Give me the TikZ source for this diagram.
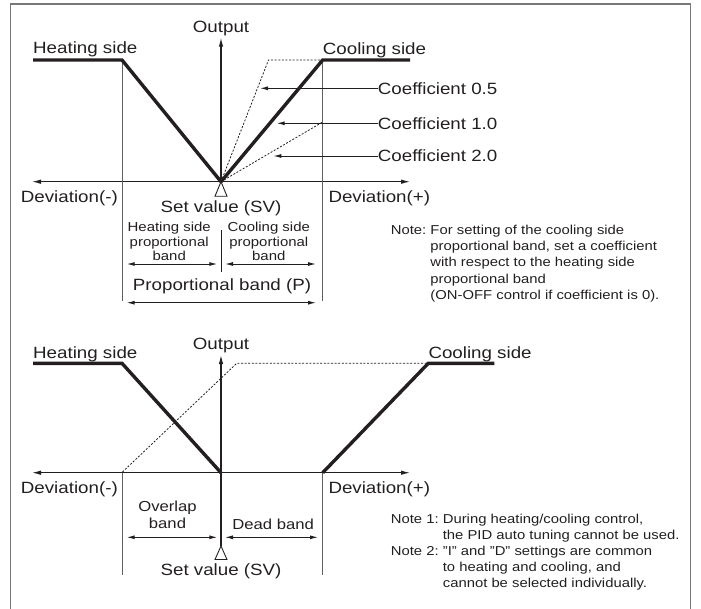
\documentclass[tikz,border=0pt]{standalone}
\usepackage{fontspec}
\setmainfont{Liberation Sans}[FakeStretch=1.15]
\usetikzlibrary{arrows.meta}
\definecolor{inkblack}{RGB}{35,31,32}
\definecolor{framegray}{RGB}{120,120,120}
\definecolor{guidegray}{RGB}{95,95,95}
\newcommand{\biglbl}{\fontsize{16.3}{18}\selectfont}
\newcommand{\bandlbl}{\fontsize{13}{14.5}\selectfont}
\newcommand{\deadlbl}{\fontsize{14.5}{17.5}\selectfont}
\newcommand{\notelbl}{\fontsize{12.9}{16.2}\selectfont}

\begin{document}
\begin{tikzpicture}[x=1pt,y=-1pt,
  lbl/.style={inner sep=0pt,text=inkblack,font=\biglbl},
  axis/.style={line width=1.1pt,inkblack,-{Latex[length=9pt,width=4.5pt]}},
  curve/.style={line width=3.4pt,inkblack,line join=miter},
  coef/.style={line width=0.8pt,inkblack,dash pattern=on 2pt off 1.6pt},
  guide/.style={line width=0.9pt,guidegray},
  span/.style={line width=1pt,inkblack,{Latex[length=8pt,width=4pt]}-{Latex[length=8pt,width=4pt]}},
  lead/.style={line width=1pt,inkblack,-{Latex[length=8pt,width=4pt]}},
  svmark/.style={line width=0.9pt,inkblack,fill=white}]
\useasboundingbox (0,0) rectangle (701,608);
% Frame
\draw[framegray,line width=1.3pt] (10.7,612) -- (10.7,4) -- (690.7,4) -- (690.7,612);

%%% Upper diagram: proportional band
% Curve points
\coordinate (hl1) at (33,60);
\coordinate (hk1) at (122,60);
\coordinate (sv1) at (221,181.7);
\coordinate (ck1) at (322.7,60);
\coordinate (cr1) at (410,60);
\coordinate (xl1) at (32,181.7);
\coordinate (xr1) at (410,181.7);
\coordinate (ot1) at (221,37.7);

% Axes
\draw[axis,{Latex[length=9pt,width=4.5pt]}-{Latex[length=9pt,width=4.5pt]}] (xl1) -- (xr1);
\draw[axis] (sv1) -- (ot1);
\node[lbl,anchor=base] (out1) at (221,32.5) {Output};

% Guides
\draw[guide] (hk1) -- (122,300.7);
\draw[guide] (ck1) -- (322.7,300.7);

% Coefficient lines
\draw[coef] (sv1) -- (268.5,60) -- (ck1);
\draw[coef] (sv1) -- (322.7,122);

% Heating and cooling output
\draw[curve] (hl1) -- (hk1) -- (sv1) -- (ck1) -- (cr1);
\node[lbl,anchor=base west] (heat1) at (33,53.3) {Heating side};
\node[lbl,anchor=base west] (cool1) at (322.7,54) {Cooling side};

% Coefficient labels
\node[lbl,anchor=west] (c05) at (377.7,88.3) {Coefficient 0.5};
\node[lbl,anchor=west] (c10) at (377.7,123.3) {Coefficient 1.0};
\node[lbl,anchor=west] (c20) at (377.7,156) {Coefficient 2.0};
\coordinate (t05) at (260,88.3);
\coordinate (t10) at (276.7,123.3);
\coordinate (t20) at (273.3,156);
\foreach \c in {05,10,20} {
  \draw[lead] (c\c.west) -- (t\c);
}

% Set value and deviation
\draw[svmark] (sv1) -- ++(-6,14.5) -- ++(12,0) -- cycle;
\node[lbl,anchor=west] (devm1) at (20.7,198.5) {Deviation(-)};
\node[lbl,anchor=west] (devp1) at (328.3,198.5) {Deviation(+)};
\node[lbl] (set1) at (221,207.8) {Set value (SV)};

% Bands
\node[inner sep=0pt,text=inkblack,font=\bandlbl,align=center,anchor=south] (hpb) at (169.2,261) {Heating side\\proportional\\band};
\node[inner sep=0pt,text=inkblack,font=\bandlbl,align=center,anchor=south] (cpb) at (268.8,261) {Cooling side\\proportional\\band};
\coordinate (dv1) at (221,230);
\coordinate (dv2) at (221,271.7);
\draw[guide,inkblack] (dv1) -- (dv2);
\draw[span] (126.7,264) -- (217.3,264);
\draw[span] (225,264) -- (316,264);
\node[lbl] (pb) at (222,286.5) {Proportional band (P)};
\draw[span] (126.7,302.7) -- (316,302.7);

% Note
\node[inner sep=0pt,text=inkblack,font=\notelbl,anchor=base west] (note1) at (390.7,234.5) {%
  \begin{tabular}[t]{@{}l@{\ }l@{}}
  Note: & For setting of the cooling side\\
        & proportional band, set a coefficient\\
        & with respect to the heating side\\
        & proportional band\\
        & (ON-OFF control if coefficient is 0).
  \end{tabular}};

%%% Lower diagram: overlap and dead band
% Curve points
\coordinate (hl2) at (33,363.3);
\coordinate (hk2) at (122,363.3);
\coordinate (sv2) at (221,472.7);
\coordinate (db2) at (322.7,472.7);
\coordinate (ck2) at (428.3,363.3);
\coordinate (cr2) at (494.3,363.3);
\coordinate (xl2) at (32,472.7);
\coordinate (xr2) at (410,472.7);
\coordinate (ot2) at (221,355);
\coordinate (tri2) at (221,546);

% Axes
\draw[axis,{Latex[length=9pt,width=4.5pt]}-{Latex[length=9pt,width=4.5pt]}] (xl2) -- (xr2);
\draw[axis] (tri2) -- (ot2);
\node[lbl,anchor=base] (out2) at (221,349) {Output};

% Guides
\draw[guide] (122,472.7) -- (122,575);
\draw[guide] (db2) -- (322.7,575);

% Shifted cooling line
\draw[coef] (122.5,472) -- (236.7,363.3) -- (ck2);

% Heating and cooling output
\draw[curve] (hl2) -- (hk2) -- (sv2);
\draw[curve] (db2) -- (ck2) -- (cr2);
\node[lbl,anchor=base west] (heat2) at (33,358.3) {Heating side};
\node[lbl,anchor=base west] (cool2) at (428.3,358.3) {Cooling side};

% Deviation
\node[lbl,anchor=west] (devm2) at (20.7,489) {Deviation(-)};
\node[lbl,anchor=west] (devp2) at (328.3,489) {Deviation(+)};

% Bands
\node[inner sep=0pt,text=inkblack,font=\deadlbl,align=center,anchor=south] (ovb) at (167.5,529.3) {Overlap\\band};
\node[inner sep=0pt,text=inkblack,font=\deadlbl,anchor=base] (ddb) at (273.2,529.3) {Dead band};
\draw[span] (126.7,537.3) -- (217.3,537.3);
\draw[span] (225,537.3) -- (318,537.3);

% Set value
\draw[svmark] (tri2) -- ++(-6,13.5) -- ++(12,0) -- cycle;
\node[lbl] (set2) at (221,570.8) {Set value (SV)};

% Notes
\node[inner sep=0pt,text=inkblack,font=\notelbl,anchor=base west] (note2) at (390.7,523) {%
  \begin{tabular}[t]{@{}l@{\ }l@{}}
  Note 1: & During heating/cooling control,\\
          & the PID auto tuning cannot be used.\\
  Note 2: & "I" and "D" settings are common\\
          & to heating and cooling, and\\
          & cannot be selected individually.
  \end{tabular}};
\end{tikzpicture}
\end{document}
